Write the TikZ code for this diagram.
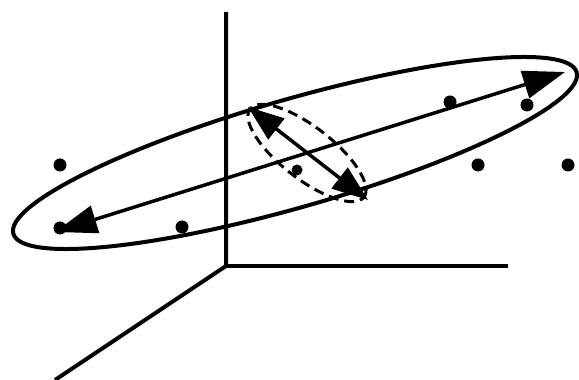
\documentclass[tikz,border=0pt]{standalone}
\usetikzlibrary{arrows.meta}
\tikzset{
    axis/.style={line width=4pt, draw=black},
    hull/.style={line width=4pt, draw=black},
    pcmajor/.style={{Triangle[length=42pt,width=28pt]}-{Triangle[length=42pt,width=28pt]},
        line width=3.5pt, draw=black},
    pcminor/.style={{Triangle[length=36pt,width=26pt]}-{Triangle[length=36pt,width=26pt]},
        line width=3.5pt, draw=black},
    slice/.style={line width=3pt, draw=black, dash pattern=on 10pt off 6pt},
    sample/.style={circle, fill=black, inner sep=0pt, minimum size=13pt}
}

\begin{document}
\begin{tikzpicture}[x=1pt, y=1pt]
\useasboundingbox (0,0) rectangle (579,380);

%% axes
\coordinate (o)  at (226,114);
\coordinate (ox) at (508,114);
\coordinate (oy) at (226,368);
\coordinate (oz) at (55,0);
\draw[axis] (oz) -- (o) -- (oy);
\draw[axis] (o) -- (ox);

%% data cloud
\coordinate (mid) at (295,227);
\draw[hull, rotate around={16:(mid)}] (mid) ellipse [x radius=293, y radius=54];

\node[sample] (s1) at (60,215)  {};
\node[sample] (s2) at (60,152)  {};
\node[sample] (s3) at (182,153) {};
\node[sample, minimum size=11pt] (s4) at (297,210) {};
\node[sample] (s5) at (450,278) {};
\node[sample] (s6) at (527,275) {};
\node[sample] (s7) at (478,215) {};
\node[sample] (s8) at (568,215) {};

%% principal directions
\coordinate (p1a) at (55,148);
\coordinate (p1b) at (565,308);
\draw[pcmajor] (p1a) -- (p1b);

\coordinate (p2a) at (248,273);
\coordinate (p2b) at (368,180);
\draw[pcminor] (p2a) -- (p2b);

%% cross-section
\coordinate (cut) at (307,227);
\draw[slice, rotate around={-37.8:(cut)}] (cut) ellipse [x radius=72, y radius=26];

\end{tikzpicture}
\end{document}
